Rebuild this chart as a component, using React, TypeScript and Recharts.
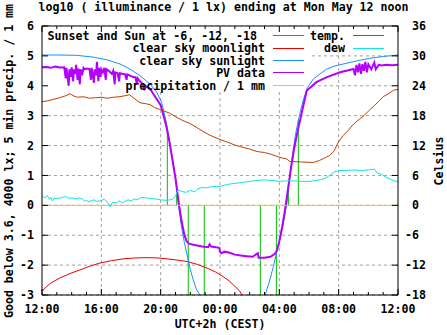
import React from 'react';
import { ComposedChart, Line, XAxis, YAxis, CartesianGrid, ReferenceArea, ReferenceLine, Legend } from 'recharts';

const FONT = '"DejaVu Sans Mono", "Liberation Mono", monospace';
const PLOT_TOP = 26;
const PLOT_BOTTOM = 295;

// x axis: hours after 12:00
const hourTicks = Array.from({ length: 25 }, (_, i) => i);
const majorHours = [0, 4, 8, 12, 16, 20, 24];
const hourLabels = ['12:00', '16:00', '20:00', '00:00', '04:00', '08:00', '12:00'];
const luxTicks = [-3, -2, -1, 0, 1, 2, 3, 4, 5, 6];
const celsiusTicks = [-18, -12, -6, 0, 6, 12, 18, 24, 30, 36];

// key order: first column, then second column
const keyNames = [
  'Sunset and Sun at -6, -12, -18',
  'clear sky moonlight',
  'clear sky sunlight',
  'PV data',
  'precipitation / 1 mm',
  'temp.',
  'dew',
];

// sunset, sun at -6, -12, -18 (evening, then morning) and how far each mark reaches
const eventHours = [8.45, 9.08, 9.86, 10.94, 14.72, 15.8, 16.61, 17.28];
const eventTops = [2.6, 0.63, -3, -3, -3, -3, 0.62, 2.85];

const moonlight = [
  { h: 0, v: -2.88 }, { h: 0.3, v: -2.72 }, { h: 0.6, v: -2.6 }, { h: 1.2, v: -2.43 },
  { h: 1.9, v: -2.28 }, { h: 2.56, v: -2.16 }, { h: 3.2, v: -2.04 }, { h: 3.91, v: -1.93 },
  { h: 4.7, v: -1.85 }, { h: 5.46, v: -1.79 }, { h: 6.3, v: -1.76 }, { h: 7.08, v: -1.75 },
  { h: 7.8, v: -1.76 }, { h: 8.43, v: -1.79 }, { h: 9.1, v: -1.83 }, { h: 9.78, v: -1.88 },
  { h: 10.5, v: -1.98 }, { h: 11.13, v: -2.1 }, { h: 11.7, v: -2.23 }, { h: 12.2, v: -2.38 },
  { h: 12.6, v: -2.52 }, { h: 13.01, v: -2.71 }, { h: 13.3, v: -2.85 }, { h: 13.49, v: -3 },
];

const sunlight = [
  { h: 0, v: 5.03 }, { h: 1, v: 5.03 }, { h: 2.3, v: 5.02 }, { h: 3.45, v: 4.96 },
  { h: 4.36, v: 4.87 }, { h: 5.26, v: 4.73 }, { h: 5.93, v: 4.56 }, { h: 6.6, v: 4.34 },
  { h: 7.28, v: 4.06 }, { h: 7.73, v: 3.79 }, { h: 8.06, v: 3.45 }, { h: 8.3, v: 2.95 },
  { h: 8.45, v: 2.6 }, { h: 8.65, v: 2.0 }, { h: 8.85, v: 1.4 }, { h: 9.0, v: 0.9 },
  { h: 9.2, v: 0.0 }, { h: 9.4, v: -0.7 }, { h: 9.6, v: -1.25 }, { h: 9.8, v: -1.7 },
  { h: 10.0, v: -2.15 }, { h: 10.2, v: -2.5 }, { h: 10.4, v: -2.8 }, { h: 10.65, v: -3 },
  { h: 12.8, v: null }, { h: 15.04, v: -3 }, { h: 15.3, v: -2.6 }, { h: 15.6, v: -2.05 },
  { h: 15.9, v: -1.4 }, { h: 16.2, v: -0.8 }, { h: 16.5, v: 0.05 }, { h: 16.7, v: 0.9 },
  { h: 16.9, v: 1.75 }, { h: 17.1, v: 2.4 }, { h: 17.3, v: 2.9 }, { h: 17.6, v: 3.5 },
  { h: 17.9, v: 3.95 }, { h: 18.3, v: 4.23 }, { h: 18.8, v: 4.42 }, { h: 19.2, v: 4.56 },
  { h: 19.7, v: 4.66 }, { h: 20.5, v: 4.75 }, { h: 21.3, v: 4.84 }, { h: 22.1, v: 4.92 },
  { h: 23.0, v: 4.98 }, { h: 24, v: 5.03 },
];

const pvData = [
  { h: 0, v: 4.62 }, { h: 0.3, v: 4.63 }, { h: 0.6, v: 4.6 }, { h: 0.9, v: 4.64 },
  { h: 1.2, v: 4.61 }, { h: 1.5, v: 4.62 }, { h: 1.6, v: 4.25 }, { h: 1.65, v: 4.6 },
  { h: 1.8, v: 4.0 }, { h: 1.85, v: 4.55 }, { h: 1.95, v: 4.3 }, { h: 2.0, v: 4.62 },
  { h: 2.1, v: 4.15 }, { h: 2.15, v: 4.55 }, { h: 2.25, v: 4.4 }, { h: 2.3, v: 4.7 },
  { h: 2.4, v: 4.2 }, { h: 2.45, v: 4.58 }, { h: 2.55, v: 4.05 }, { h: 2.6, v: 4.55 },
  { h: 2.7, v: 4.35 }, { h: 2.8, v: 4.6 }, { h: 2.9, v: 4.55 }, { h: 3.0, v: 4.58 },
  { h: 3.2, v: 4.56 }, { h: 3.3, v: 4.2 }, { h: 3.35, v: 4.6 }, { h: 3.5, v: 4.1 },
  { h: 3.55, v: 4.55 }, { h: 3.65, v: 4.35 }, { h: 3.7, v: 4.8 }, { h: 3.8, v: 4.15 },
  { h: 3.85, v: 4.6 }, { h: 3.95, v: 4.3 }, { h: 4.0, v: 4.55 }, { h: 4.1, v: 4.45 },
  { h: 4.2, v: 4.6 }, { h: 4.3, v: 4.2 }, { h: 4.35, v: 4.55 }, { h: 4.5, v: 4.5 },
  { h: 4.6, v: 4.45 }, { h: 4.7, v: 4.4 }, { h: 4.8, v: 4.5 }, { h: 4.9, v: 4.05 },
  { h: 4.95, v: 4.45 }, { h: 5.1, v: 4.42 }, { h: 5.2, v: 4.15 }, { h: 5.25, v: 4.42 },
  { h: 5.4, v: 4.4 }, { h: 5.6, v: 4.38 }, { h: 5.7, v: 4.2 }, { h: 5.75, v: 4.38 },
  { h: 5.9, v: 4.35 }, { h: 6.1, v: 4.3 }, { h: 6.3, v: 4.28 }, { h: 6.4, v: 4.05 },
  { h: 6.45, v: 4.25 }, { h: 6.6, v: 4.15 }, { h: 6.8, v: 4.05 }, { h: 6.9, v: 3.85 },
  { h: 6.95, v: 4.0 }, { h: 7.28, v: 3.9 }, { h: 7.73, v: 3.56 }, { h: 8.0, v: 3.35 },
  { h: 8.2, v: 3.0 }, { h: 8.4, v: 2.6 }, { h: 8.6, v: 2.1 }, { h: 8.8, v: 1.5 },
  { h: 9.0, v: 0.9 }, { h: 9.2, v: 0.15 }, { h: 9.4, v: -0.5 }, { h: 9.6, v: -1.0 },
  { h: 9.75, v: -1.2 }, { h: 9.9, v: -1.28 }, { h: 10.2, v: -1.32 }, { h: 10.8, v: -1.38 },
  { h: 11.2, v: -1.4 }, { h: 11.3, v: -1.3 }, { h: 11.4, v: -1.38 }, { h: 11.95, v: -1.42 },
  { h: 12.0, v: -1.55 }, { h: 12.1, v: -1.6 }, { h: 12.3, v: -1.55 }, { h: 12.6, v: -1.58 },
  { h: 13.0, v: -1.65 }, { h: 13.4, v: -1.68 }, { h: 13.8, v: -1.7 }, { h: 14.2, v: -1.72 },
  { h: 14.55, v: -1.6 }, { h: 14.6, v: -1.75 }, { h: 15.0, v: -1.75 }, { h: 15.4, v: -1.72 },
  { h: 15.7, v: -1.62 }, { h: 15.85, v: -1.5 }, { h: 16.0, v: -1.2 }, { h: 16.2, v: -0.7 },
  { h: 16.4, v: -0.1 }, { h: 16.6, v: 0.6 }, { h: 16.8, v: 1.3 }, { h: 17.0, v: 1.9 },
  { h: 17.2, v: 2.4 }, { h: 17.4, v: 2.85 }, { h: 17.6, v: 3.3 }, { h: 17.85, v: 3.84 },
  { h: 18.5, v: 4.12 }, { h: 19.2, v: 4.29 }, { h: 20.1, v: 4.45 }, { h: 21.0, v: 4.56 },
  { h: 21.1, v: 4.35 }, { h: 21.2, v: 4.7 }, { h: 21.3, v: 4.45 }, { h: 21.4, v: 4.75 },
  { h: 21.5, v: 4.4 }, { h: 21.6, v: 4.72 }, { h: 21.7, v: 4.5 }, { h: 21.8, v: 4.8 },
  { h: 21.9, v: 4.45 }, { h: 22.0, v: 4.72 }, { h: 22.2, v: 4.55 }, { h: 22.4, v: 4.78 },
  { h: 22.5, v: 4.55 }, { h: 22.7, v: 4.7 }, { h: 22.9, v: 4.68 }, { h: 23.2, v: 4.7 },
  { h: 23.6, v: 4.69 }, { h: 24, v: 4.7 },
];

const precipitation = [{ h: 0, v: 0 }, { h: 24, v: 0 }];

const temperature = [
  { h: 0, v: 20.8 }, { h: 0.4, v: 21.0 }, { h: 0.8, v: 21.3 }, { h: 1.2, v: 21.6 },
  { h: 1.6, v: 22.0 }, { h: 1.9, v: 22.4 }, { h: 2.1, v: 22.0 }, { h: 2.4, v: 21.7 },
  { h: 2.8, v: 21.8 }, { h: 3.2, v: 21.5 }, { h: 3.6, v: 21.6 }, { h: 4.0, v: 21.7 },
  { h: 4.4, v: 21.5 }, { h: 4.8, v: 21.7 }, { h: 5.2, v: 21.8 }, { h: 5.6, v: 22.0 },
  { h: 5.9, v: 22.2 }, { h: 6.2, v: 21.5 }, { h: 6.6, v: 20.6 }, { h: 7.0, v: 20.4 },
  { h: 7.3, v: 20.2 }, { h: 7.6, v: 19.6 }, { h: 8.0, v: 19.2 }, { h: 8.6, v: 18.5 },
  { h: 9.0, v: 17.8 }, { h: 9.5, v: 17.0 }, { h: 10.0, v: 16.4 }, { h: 10.5, v: 15.5 },
  { h: 11.0, v: 14.6 }, { h: 11.3, v: 14.1 }, { h: 12.0, v: 13.2 }, { h: 12.5, v: 12.7 },
  { h: 13.0, v: 12.1 }, { h: 13.35, v: 11.8 }, { h: 14.0, v: 11.3 }, { h: 14.5, v: 10.8 },
  { h: 15.0, v: 10.6 }, { h: 15.4, v: 10.3 }, { h: 15.85, v: 9.8 }, { h: 16.2, v: 9.5 },
  { h: 16.5, v: 9.3 }, { h: 16.7, v: 8.8 }, { h: 17.5, v: 8.7 }, { h: 18.3, v: 8.6 },
  { h: 18.7, v: 9.0 }, { h: 19.1, v: 9.6 }, { h: 19.4, v: 10.0 }, { h: 19.7, v: 11.0 },
  { h: 20.0, v: 12.8 }, { h: 20.3, v: 14.0 }, { h: 20.6, v: 14.9 }, { h: 21.0, v: 16.3 },
  { h: 21.4, v: 17.3 }, { h: 21.7, v: 18.0 }, { h: 22.0, v: 18.9 }, { h: 22.4, v: 20.0 },
  { h: 22.7, v: 20.9 }, { h: 23.0, v: 21.8 }, { h: 23.4, v: 22.5 }, { h: 23.7, v: 23.1 },
  { h: 24, v: 23.3 },
];

const dew = [
  { h: 0, v: 1.9 }, { h: 0.2, v: 1.5 }, { h: 0.35, v: 2.0 }, { h: 0.5, v: 1.2 },
  { h: 0.6, v: 1.6 }, { h: 0.7, v: 0.9 }, { h: 0.8, v: 1.4 }, { h: 1.0, v: 1.4 },
  { h: 1.3, v: 1.5 }, { h: 1.6, v: 1.8 }, { h: 1.8, v: 1.4 }, { h: 2.0, v: 1.5 },
  { h: 2.3, v: 1.3 }, { h: 2.5, v: 1.5 }, { h: 2.7, v: 1.3 }, { h: 2.9, v: 0.8 },
  { h: 3.0, v: 1.1 }, { h: 3.1, v: 0.7 }, { h: 3.3, v: 0.9 }, { h: 3.5, v: 1.1 },
  { h: 3.7, v: 0.8 }, { h: 3.9, v: 0.9 }, { h: 4.2, v: 1.2 }, { h: 4.4, v: 0.7 },
  { h: 4.59, v: -0.3 }, { h: 4.75, v: 0.6 }, { h: 5.0, v: 0.5 }, { h: 5.2, v: 0.9 },
  { h: 5.4, v: 0.5 }, { h: 5.6, v: 0.8 }, { h: 5.8, v: 1.1 }, { h: 6.0, v: 0.9 },
  { h: 6.2, v: 1.3 }, { h: 6.4, v: 1.1 }, { h: 6.7, v: 1.6 }, { h: 7.0, v: 1.5 },
  { h: 7.3, v: 1.4 }, { h: 7.6, v: 1.3 }, { h: 8.0, v: 1.1 }, { h: 8.4, v: 1.0 },
  { h: 8.8, v: 1.2 }, { h: 9.0, v: 1.9 }, { h: 9.17, v: 3.1 }, { h: 9.4, v: 2.8 },
  { h: 9.7, v: 2.6 }, { h: 10.0, v: 3.0 }, { h: 10.3, v: 2.7 }, { h: 10.5, v: 3.3 },
  { h: 10.8, v: 3.6 }, { h: 11.1, v: 3.5 }, { h: 11.5, v: 3.8 }, { h: 12.0, v: 3.8 },
  { h: 12.5, v: 4.2 }, { h: 13.0, v: 4.4 }, { h: 13.5, v: 4.6 }, { h: 14.0, v: 4.8 },
  { h: 14.5, v: 5.0 }, { h: 15.0, v: 5.1 }, { h: 15.5, v: 5.0 }, { h: 16.0, v: 4.8 },
  { h: 16.5, v: 4.9 }, { h: 17.0, v: 4.9 }, { h: 17.5, v: 4.8 }, { h: 18.0, v: 4.8 },
  { h: 18.5, v: 5.0 }, { h: 19.0, v: 5.3 }, { h: 19.4, v: 6.0 }, { h: 19.7, v: 6.7 },
  { h: 20.0, v: 7.0 }, { h: 20.5, v: 7.0 }, { h: 21.0, v: 7.1 }, { h: 21.5, v: 7.0 },
  { h: 22.0, v: 7.1 }, { h: 22.4, v: 7.3 }, { h: 22.6, v: 6.5 }, { h: 22.9, v: 6.2 },
  { h: 23.2, v: 5.6 }, { h: 23.5, v: 5.2 }, { h: 23.8, v: 4.9 }, { h: 24, v: 4.8 },
];

const eventData = eventHours.flatMap((h, i) => [
  { h, v: 0 },
  { h, v: eventTops[i] },
  { h, v: null },
]);

// white key box behind the curves (hides the grid)
const keyBoxes = [
  { x1: 0, x2: 18.07, y1: 3.8, y2: 6 },
  { x1: 18.07, x2: 24, y1: 5.12, y2: 6 },
];

const textStyle: React.CSSProperties = {
  position: 'absolute',
  fontFamily: FONT,
  fontWeight: 'bold',
  fontSize: 11.6,
  lineHeight: '14px',
  whiteSpace: 'pre',
  color: '#000',
};

function HourTick(props: any) {
  const { x, y, payload } = props;
  const i = majorHours.indexOf(payload.value);
  const len = i >= 0 ? 6 : 3;
  return (
    <g>
      <line x1={x} x2={x} y1={PLOT_BOTTOM} y2={PLOT_BOTTOM - len} stroke="#000" />
      <line x1={x} x2={x} y1={PLOT_TOP} y2={PLOT_TOP + len} stroke="#000" />
      {i >= 0 && (
        <text x={x} y={y} textAnchor="middle" fontFamily={FONT} fontWeight="bold" fontSize={11.6} fill="#000">
          {hourLabels[i]}
        </text>
      )}
    </g>
  );
}

function CelsiusTick(props: any) {
  const { x, y, payload } = props;
  const v = payload.value;
  return (
    <text x={v < 0 ? x - 7 : x} y={y} dy="0.355em" textAnchor="start" fontFamily={FONT} fontWeight="bold" fontSize={11.6} fill="#000">
      {String(v)}
    </text>
  );
}

function KeyContent(props: any) {
  const items = (props.payload || []) as any[];
  return (
    <div style={{ position: 'relative', width: 447, height: 335 }}>
      {keyNames.map((name, i) => {
        const item = items.find((p) => p.value === name);
        const col = i < 5 ? 0 : 1;
        const row = col === 0 ? i : i - 5;
        const cy = 35.7 + row * 12.4;
        const textRight = col === 0 ? (row === 0 ? 257 : 265) : 345;
        const lineLeft = col === 0 ? 273 : 353;
        return (
          <React.Fragment key={name}>
            <div style={{ ...textStyle, right: 447 - textRight, top: cy - 6.8 }}>{name}</div>
            <div style={{ position: 'absolute', left: lineLeft, top: cy - 0.5, width: 31, height: 1, background: item ? item.color : '#000' }} />
          </React.Fragment>
        );
      })}
    </div>
  );
}

function gridColumns({ xAxis, offset }: any) {
  const inner = majorHours.slice(1, -1);
  if (xAxis && typeof xAxis.scale === 'function') return inner.map((h) => xAxis.scale(h));
  return inner.map((h) => offset.left + (h / 24) * offset.width);
}

export default function App() {
  return (
    <div style={{ position: 'absolute', left: 0, top: 0, width: 447, height: 335, background: '#fff' }}>
      <ComposedChart width={447} height={335} margin={{ top: PLOT_TOP, right: 0, bottom: 0, left: 0 }}>
        <CartesianGrid
          yAxisId="l"
          stroke="#a0a0a0"
          strokeDasharray="3 3"
          verticalCoordinatesGenerator={gridColumns}
        />
        {keyBoxes.map((b, i) => (
          <ReferenceArea key={i} yAxisId="l" x1={b.x1} x2={b.x2} y1={b.y1} y2={b.y2} fill="#fff" fillOpacity={1} stroke="none" />
        ))}
        <XAxis
          dataKey="h"
          type="number"
          domain={[0, 24]}
          ticks={hourTicks}
          interval={0}
          tick={<HourTick />}
          tickLine={false}
          tickSize={0}
          tickMargin={18}
          height={40}
          stroke="#000"
          allowDataOverflow
        />
        <YAxis
          yAxisId="l"
          type="number"
          domain={[-3, 6]}
          ticks={luxTicks}
          interval={0}
          width={42}
          tickSize={-6}
          tickMargin={14}
          stroke="#000"
          tick={{ fill: '#000', fontFamily: FONT, fontWeight: 'bold', fontSize: 11.6 }}
          allowDataOverflow
        />
        <YAxis
          yAxisId="r"
          orientation="right"
          type="number"
          domain={[-18, 36]}
          ticks={celsiusTicks}
          interval={0}
          width={49}
          tickSize={-6}
          tickMargin={20}
          stroke="#000"
          tick={<CelsiusTick />}
          allowDataOverflow
        />
        <ReferenceLine yAxisId="l" y={6} stroke="#000" />
        <Line yAxisId="l" data={eventData} dataKey="v" name={keyNames[0]} stroke="#00c000" strokeWidth={1} dot={false} connectNulls={false} isAnimationActive={false} />
        <Line yAxisId="l" data={moonlight} dataKey="v" name={keyNames[1]} stroke="#ee0000" strokeWidth={1} dot={false} isAnimationActive={false} />
        <Line yAxisId="l" data={sunlight} dataKey="v" name={keyNames[2]} stroke="#1890ff" strokeWidth={1} dot={false} connectNulls={false} isAnimationActive={false} />
        <Line yAxisId="l" data={pvData} dataKey="v" name={keyNames[3]} stroke="#b400ff" strokeWidth={2} dot={false} isAnimationActive={false} />
        <Line yAxisId="l" data={precipitation} dataKey="v" name={keyNames[4]} stroke="#f4be3a" strokeWidth={1} dot={false} isAnimationActive={false} />
        <Line yAxisId="r" data={temperature} dataKey="v" name={keyNames[5]} stroke="#c04000" strokeWidth={1} dot={false} isAnimationActive={false} />
        <Line yAxisId="r" data={dew} dataKey="v" name={keyNames[6]} stroke="#10e4e4" strokeWidth={1} dot={false} isAnimationActive={false} />
        <Legend
          layout="horizontal"
          verticalAlign="middle"
          align="center"
          content={<KeyContent />}
          wrapperStyle={{ left: 0, top: 0, width: 447, height: 335, pointerEvents: 'none' }}
        />
      </ComposedChart>
      <div style={{ ...textStyle, left: 0, width: 447, top: 0, textAlign: 'center' }}>
        log10 ( illuminance / 1 lx) ending at Mon May 12 noon
      </div>
      <div style={{ ...textStyle, left: 220, top: 324, transform: 'translate(-50%,-50%)' }}>UTC+2h (CEST)</div>
      <div style={{ ...textStyle, left: 9, top: 161, transform: 'translate(-50%,-50%) rotate(-90deg)' }}>
        Good below 3.6, 4000 lx; 5 min precip. / 1 mm
      </div>
      <div style={{ ...textStyle, left: 439, top: 161, transform: 'translate(-50%,-50%) rotate(-90deg)' }}>Celsius</div>
    </div>
  );
}
